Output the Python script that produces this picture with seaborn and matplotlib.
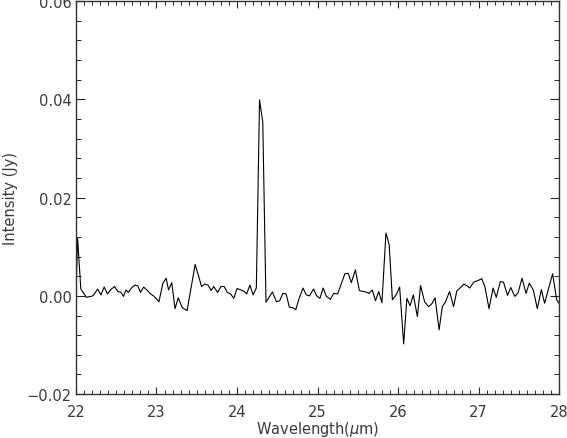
import matplotlib
matplotlib.use("Agg")
import matplotlib.pyplot as plt
import seaborn as sns
import pandas as pd
from matplotlib.ticker import MultipleLocator

wavelength = [
    22.00, 22.02, 22.06, 22.13, 22.21, 22.27, 22.31, 22.35, 22.39, 22.44,
    22.48, 22.52, 22.56, 22.59, 22.62, 22.65, 22.69, 22.73, 22.77, 22.80,
    22.84, 22.88, 22.92, 22.97, 23.03, 23.08, 23.12, 23.15, 23.19, 23.23,
    23.27, 23.32, 23.38, 23.43, 23.48, 23.52, 23.56, 23.60, 23.64, 23.68,
    23.71, 23.76, 23.80, 23.84, 23.88, 23.92, 23.96, 24.00, 24.05, 24.09,
    24.12, 24.16, 24.20, 24.24, 24.28, 24.32, 24.36, 24.44, 24.49, 24.53,
    24.57, 24.61, 24.65, 24.69, 24.73, 24.77, 24.82, 24.86, 24.90, 24.95,
    24.99, 25.03, 25.07, 25.11, 25.16, 25.20, 25.25, 25.29, 25.34, 25.38,
    25.42, 25.47, 25.52, 25.56, 25.60, 25.64, 25.68, 25.72, 25.76, 25.80,
    25.85, 25.89, 25.93, 25.98, 26.02, 26.07, 26.11, 26.15, 26.19, 26.24,
    26.28, 26.33, 26.38, 26.42, 26.46, 26.51, 26.55, 26.59, 26.64, 26.69,
    26.73, 26.77, 26.82, 26.86, 26.89, 26.94, 26.99, 27.04, 27.08, 27.13,
    27.18, 27.22, 27.27, 27.31, 27.36, 27.40, 27.45, 27.49, 27.54, 27.59,
    27.63, 27.68, 27.73, 27.78, 27.82, 27.87, 27.92, 27.97, 28.00,
]
intensity = [
    0.0000, 0.0118, 0.0014, -0.0003, 0.0000, 0.0014, 0.0002, 0.0018, 0.0004, 0.0014,
    0.0019, 0.0009, 0.0007, -0.0001, 0.0012, 0.0007, 0.0016, 0.0022, 0.0020, 0.0007,
    0.0018, 0.0012, 0.0005, -0.0001, -0.0012, 0.0026, 0.0036, 0.0012, 0.0027, -0.0026,
    -0.0004, -0.0024, -0.0030, 0.0017, 0.0064, 0.0042, 0.0019, 0.0024, 0.0022, 0.0011,
    0.0019, 0.0007, 0.0019, 0.0019, 0.0007, 0.0004, -0.0005, 0.0015, 0.0012, 0.0009,
    0.0004, 0.0022, 0.0002, 0.0016, 0.0399, 0.0354, -0.0013, 0.0008, -0.0012, -0.0010,
    0.0005, 0.0004, -0.0023, -0.0024, -0.0028, -0.0006, 0.0016, 0.0002, 0.0000, 0.0014,
    0.0000, -0.0005, 0.0016, -0.0001, -0.0007, 0.0005, 0.0004, 0.0022, 0.0045, 0.0046,
    0.0027, 0.0053, 0.0011, 0.0009, 0.0008, 0.0005, 0.0012, -0.0010, 0.0009, -0.0014,
    0.0128, 0.0104, -0.0008, 0.0003, 0.0018, -0.0098, -0.0005, -0.0020, 0.0002, -0.0042,
    0.0021, -0.0012, -0.0022, -0.0016, -0.0004, -0.0069, -0.0022, -0.0012, 0.0009, -0.0022,
    0.0010, 0.0016, 0.0024, 0.0020, 0.0016, 0.0028, 0.0031, 0.0035, 0.0018, -0.0026,
    0.0016, -0.0003, 0.0029, 0.0028, 0.0001, 0.0017, -0.0001, 0.0006, 0.0036, 0.0005,
    0.0026, 0.0012, -0.0026, 0.0013, -0.0015, 0.0015, 0.0045, -0.0008, -0.0015,
]

x_ticks = [22, 23, 24, 25, 26, 27, 28]
y_ticks = [-0.02, 0.00, 0.02, 0.04, 0.06]
y_tick_labels = ["\u22120.02", "0.00", "0.02", "0.04", "0.06"]

sns.set_theme(style="ticks")
plt.rcParams["font.family"] = ["DejaVu Sans"]

df = pd.DataFrame({"wavelength": wavelength, "intensity": intensity})

fig = plt.figure(figsize=(5.67, 4.39), dpi=100)
ax = fig.add_axes([0.134, 0.100, 0.852, 0.895])

sns.lineplot(data=df, x="wavelength", y="intensity", ax=ax, color="black",
             linewidth=0.8, estimator=None, sort=False)

ax.set_xlim(22, 28)
ax.set_ylim(-0.02, 0.06)
ax.set_xticks(x_ticks)
ax.set_xticklabels([str(t) for t in x_ticks])
ax.set_yticks(y_ticks)
ax.set_yticklabels(y_tick_labels)
ax.xaxis.set_minor_locator(MultipleLocator(0.1))
ax.yaxis.set_minor_locator(MultipleLocator(0.004))

ax.tick_params(axis="x", which="major", direction="in", length=5, width=0.8,
               top=True, bottom=True, labelsize=10.5, labelcolor="#3a3a3a", pad=7)
ax.tick_params(axis="x", which="minor", direction="in", length=2.6, width=0.7,
               top=True, bottom=True)
ax.tick_params(axis="y", which="major", direction="in", length=6.5, width=0.8,
               left=True, right=True, labelsize=10.5, labelcolor="#3a3a3a", pad=3)
ax.tick_params(axis="y", which="minor", direction="in", length=3.3, width=0.7,
               left=True, right=True)

for s in ax.spines.values():
    s.set_visible(True)
    s.set_linewidth(1.0)
    s.set_color("#333333")

ax.set_xlabel("Wavelength($\\mu$m)", fontsize=10.5, color="#3a3a3a", labelpad=0)
ax.set_ylabel("Intensity (Jy)", fontsize=10.5, color="#3a3a3a", labelpad=6)

fig.savefig("out.png", dpi=100)
